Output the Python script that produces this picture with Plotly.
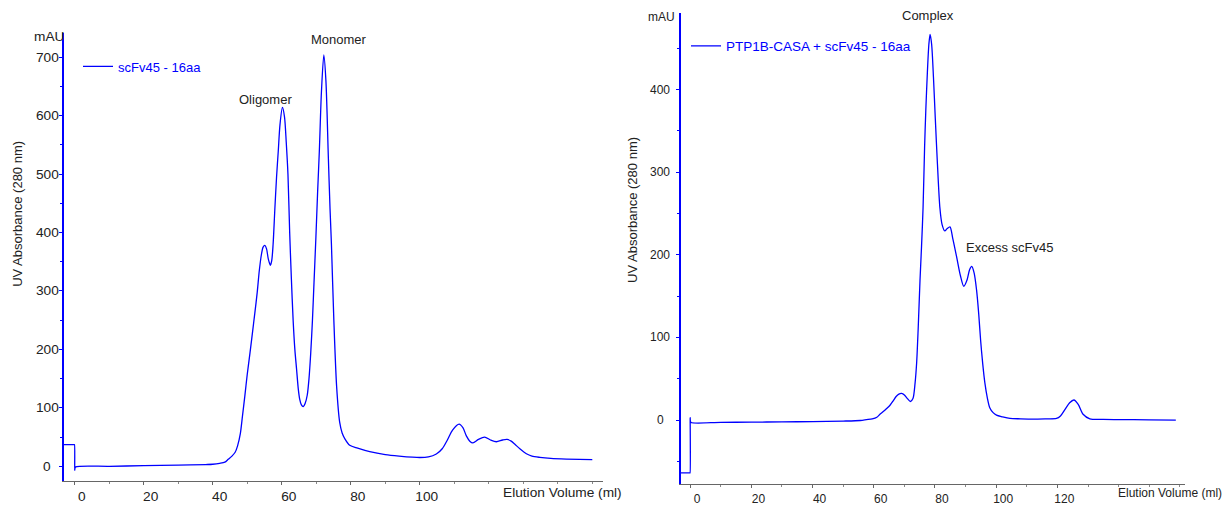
import plotly.graph_objects as go

# ---------------- data ----------------
# Left chromatogram: scFv45 - 16aa
left_ml = [-3.1, -0.2, -0.1, -0.05, 0.0, 0.05, 0.3, 10, 20, 30, 38, 40, 42, 43.5, 44.5, 45.5,
           46.5, 47.2, 48.0,
           48.6, 49.3, 50.0, 50.8, 51.5, 52.2, 52.9, 53.5, 54.1, 54.6, 55.1, 55.6, 56.1, 56.7,
           57.1, 57.5, 58.0, 58.5, 59.0, 59.5, 60.2, 60.8, 61.3, 61.8, 62.3, 62.8, 63.3, 63.8,
           64.3, 64.8, 65.2, 65.7, 66.2, 66.8, 67.4, 67.9, 68.4, 68.9, 69.3, 69.9, 70.4, 70.9,
           71.5, 72.2, 72.8, 73.5, 74.0, 74.4, 75.1, 75.9, 76.8, 77.5, 78.3, 79.7, 82, 85.5,
           90, 94, 100, 102.5, 104.8, 106.5, 108, 109.5, 111.4, 112.5, 113.5, 114.5, 115.4,
           117, 118.8, 120.5, 122.2, 124, 125.3, 126.5, 127.5, 129, 130.9, 132.5, 134.8, 138,
           142.5, 150]
left_mau = [37, 37, 37, 37, -7, -4, -1, 0, 1, 2, 3, 3.5, 5, 7, 12, 17,
            24, 35, 56,
            85, 120, 157, 194, 228, 262, 298, 335, 362, 375, 378, 372, 355, 344,
            352, 380, 440, 495, 540, 585, 614, 598, 555, 500, 400, 320, 250, 200,
            166, 132, 115, 105, 102, 108, 122, 150, 194, 250, 307, 392, 470, 540,
            640, 704, 660, 530, 440, 380, 250, 137, 75, 57, 47, 36, 31, 25,
            20, 17.5, 15, 16, 21, 30, 45, 62, 72, 66, 52, 43, 40,
            46, 50, 45, 42, 45, 46, 43, 38, 30, 21.5, 17.5, 15.3, 13.5,
            12.4, 11.3]

# Right chromatogram: PTP1B-CASA + scFv45 - 16aa
right_ml = [-3.1, -0.2, -0.1, -0.05, 0.0, 0.05, 0.3, 10, 20, 30, 40, 50, 55.6, 57.6, 59.5,
            61, 62, 63, 64.2,
            65.3, 66.3, 67.3, 68.2, 69.1, 70, 71, 72, 72.8, 73.5, 74, 74.5, 75.1, 75.6, 76.1,
            76.6, 77.0, 77.5, 78.0, 78.4, 78.9, 79.5, 80.1, 80.8, 81.6, 82.3, 83.2, 84.0, 84.9,
            85.8, 87.1, 88.3, 89.4, 90.5, 91.3, 92.0, 92.8, 93.6, 94.3, 94.9, 95.6, 96.3, 97.1,
            97.9, 99.0, 100.1, 102, 104.5, 108, 112.1, 116, 119.7, 121, 122.5, 124, 125.4,
            126.8, 128.4, 130.6, 135, 139.3, 150, 158.7]
right_mau = [-64, -64, -64, -64, 3, -1, -3, -2.8, -2.5, -2.2, -1.8, -1.2, -0.5, 0.5, 1.5,
             3.5, 7, 10, 14,
             18, 23, 28.5, 31.5, 32.3, 30.5, 26, 22.5, 26, 45, 69, 110, 169, 210, 257,
             330, 375, 420, 455, 467, 455, 415, 365, 310, 257, 237, 229, 232, 234,
             220, 197, 175, 162, 170, 182, 186, 178, 157, 128, 97, 68, 45, 27,
             15, 9, 6, 4, 2, 1.5, 1.2, 1.5, 2, 5, 13, 21, 24.3,
             19, 7, 1.5, 0.8, 0.6, 0.3, 0]

left_name = "scFv45 - 16aa"
right_name = "PTP1B-CASA + scFv45 - 16aa"

left_xticks = [0, 20, 40, 60, 80, 100]
right_xticks = [0, 20, 40, 60, 80, 100, 120]
left_yticks = [0, 100, 200, 300, 400, 500, 600, 700]
right_yticks = [0, 100, 200, 300, 400]

left_peaks = [("Oligomer", 55.4, 627), ("Monomer", 76.5, 730)]
right_peaks = [("Complex", 77.7, 490), ("Excess scFv45", 104.5, 209)]

# ---------------- figure ----------------
W, H = 1224, 506
FONT = "Arial, Liberation Sans, sans-serif"
BLUE = "#0000ff"
TXT = "#222222"
LFS = 13.7   # left axis text size
RFS = 12     # right axis text size


def px(x):
    return x / W


def py(y):
    return 1 - y / H


fig = go.Figure()
fig.add_trace(go.Scatter(x=left_ml, y=left_mau, mode="lines", name=left_name,
                         line=dict(color=BLUE, width=1.3, shape="spline", smoothing=0.8),
                         xaxis="x", yaxis="y", legend="legend"))
fig.add_trace(go.Scatter(x=right_ml, y=right_mau, mode="lines", name=right_name,
                         line=dict(color=BLUE, width=1.3, shape="spline", smoothing=0.8),
                         xaxis="x2", yaxis="y2", legend="legend2"))


def xaxis_style(fs):
    return dict(showgrid=False, zeroline=False, showline=True, linecolor="#666666",
                linewidth=1, ticks="outside", ticklen=3, tickcolor="#666666",
                tickfont=dict(family=FONT, size=fs, color=TXT), ticklabelshift=7,
                minor=dict(dtick=10, ticks="outside", ticklen=2, tickcolor="#888888"))


ycommon = dict(showgrid=False, zeroline=False, showline=True, linecolor=BLUE,
               linewidth=1.6, ticks="outside", ticklen=3, tickcolor=BLUE,
               showticklabels=False, dtick=100,
               minor=dict(dtick=50, ticks="outside", ticklen=2, tickcolor=BLUE))

fig.update_layout(
    width=W, height=H, margin=dict(l=0, r=0, t=0, b=0),
    paper_bgcolor="white", plot_bgcolor="white",
    font=dict(family=FONT, size=13, color=TXT),
    xaxis=dict(domain=[px(64), px(603)], range=[-3.1, 153.1], anchor="y",
               tickvals=left_xticks, **xaxis_style(LFS)),
    yaxis=dict(domain=[py(485.7), py(33)], range=[-25, 742], anchor="x", **ycommon),
    xaxis2=dict(domain=[px(680.7), px(1185)], range=[-3.1, 161.7], anchor="y2",
                tickvals=right_xticks, **xaxis_style(RFS)),
    yaxis2=dict(domain=[py(489), py(13)], range=[-77.6, 493], anchor="x2", **ycommon),
    showlegend=True,
    legend=dict(x=px(78), y=py(52), xanchor="left", yanchor="top",
                bgcolor="rgba(0,0,0,0)", font=dict(family=FONT, size=13, color=BLUE)),
    legend2=dict(x=px(686), y=py(31), xanchor="left", yanchor="top",
                 bgcolor="rgba(0,0,0,0)", font=dict(family=FONT, size=13.5, color=BLUE)),
)

ann = []
# y tick labels (centered, like the reference)
for v in left_yticks:
    ann.append(dict(x=px(47), xref="paper", y=v, yref="y", text=str(v), showarrow=False,
                    xanchor="center", yanchor="middle", font=dict(size=LFS, color=TXT)))
for v in right_yticks:
    ann.append(dict(x=px(660), xref="paper", y=v, yref="y2", text=str(v), showarrow=False,
                    xanchor="center", yanchor="middle", font=dict(size=RFS, color=TXT)))
# units / axis titles
ann += [
    dict(x=px(66), y=py(37), xref="paper", yref="paper", text="mAU", showarrow=False,
         xanchor="right", yanchor="middle", font=dict(size=LFS, color=TXT)),
    dict(x=px(677), y=py(17), xref="paper", yref="paper", text="mAU", showarrow=False,
         xanchor="right", yanchor="middle", font=dict(size=RFS, color=TXT)),
    dict(x=px(501), y=py(497), xref="paper", yref="paper", text="Elution Volume (ml)",
         showarrow=False, xanchor="left", yanchor="middle", font=dict(size=LFS, color=TXT)),
    dict(x=px(1115.7), y=py(498), xref="paper", yref="paper", text="Elution Volume (ml)",
         showarrow=False, xanchor="left", yanchor="middle", font=dict(size=RFS, color=TXT)),
    dict(x=px(18), y=py(216), xref="paper", yref="paper", text="UV Absorbance (280 nm)",
         showarrow=False, textangle=-90, xanchor="center", yanchor="middle",
         font=dict(size=13, color=TXT)),
    dict(x=px(633), y=py(212), xref="paper", yref="paper", text="UV Absorbance (280 nm)",
         showarrow=False, textangle=-90, xanchor="center", yanchor="middle",
         font=dict(size=13, color=TXT)),
]
for t, x, y in left_peaks:
    ann.append(dict(x=x, y=y, xref="x", yref="y", text=t, showarrow=False,
                    xanchor="center", yanchor="middle", font=dict(size=13, color=TXT)))
for t, x, y in right_peaks:
    ann.append(dict(x=x, y=y, xref="x2", yref="y2", text=t, showarrow=False,
                    xanchor="center", yanchor="middle", font=dict(size=13, color=TXT)))
fig.update_layout(annotations=ann)

fig.write_html("out.html")
